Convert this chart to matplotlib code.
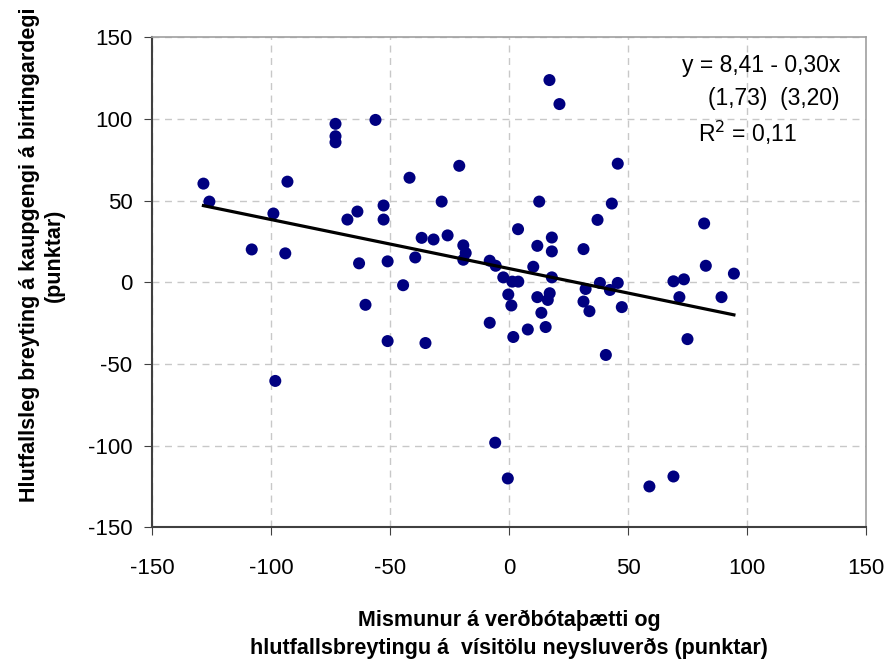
import matplotlib.pyplot as plt
import numpy as np

plt.rcParams['font.family'] = ['Liberation Sans', 'DejaVu Sans']
plt.rcParams['axes.unicode_minus'] = False

# x: mismunur (punktar), y: hlutfallsleg breyting (punktar)
x = [-128.4, -125.9, -99.0, -93.1, -108.1, -94.0, -72.9, -72.9, -72.9, -56.1,
     -67.9, -63.7, -52.7, -52.7, -63.0, -51.0, -41.8, -44.5, -39.4, -36.7,
     -31.7, -28.3, -25.8, -20.9, -19.2, -18.2, -19.2, -8.1, -5.6, -2.4,
     1.4, 3.9, 3.8, 17.0, 21.2, 45.7, 12.7, 43.2, 37.2, 18.0,
     11.9, 18.0, 31.3, 82.0, 82.7, 94.5, 69.1, 73.5, 10.2, 18.0,
     -0.3, 1.0, -8.1, 1.8, 7.9, 11.9, 16.3, 17.1, 13.6, 15.4,
     31.3, 32.2, 33.8, 38.2, 42.4, 45.7, 47.4, 40.7, 71.6, 89.3,
     75.0, -5.8, -0.5, 59.0, 69.1, -60.3, -51.0, -35.1, -98.2]
y = [60.4, 49.4, 42.1, 61.6, 20.1, 17.7, 97.0, 89.4, 85.7, 99.4,
     38.4, 43.3, 47.0, 38.4, 11.6, 12.8, 64.0, -1.8, 15.2, 27.2,
     26.2, 49.4, 28.7, 71.3, 22.6, 17.9, 13.8, 13.2, 10.1, 3.0,
     0.4, 0.4, 32.5, 123.8, 109.1, 72.6, 49.4, 48.2, 38.2, 27.4,
     22.3, 18.9, 20.3, 36.0, 10.1, 5.3, 0.6, 1.8, 9.5, 3.0,
     -7.5, -14.2, -24.8, -33.5, -28.9, -9.1, -10.8, -6.7, -18.7, -27.4,
     -11.8, -4.1, -17.7, -0.4, -4.7, -0.4, -15.2, -44.5, -9.1, -9.1,
     -34.8, -98.2, -120.1, -125.0, -118.9, -13.8, -36.0, -37.2, -60.4]

intercept = 8.41
slope = -0.30
ticks = [-150, -100, -50, 0, 50, 100, 150]

fig = plt.figure(figsize=(8.88, 6.62), dpi=100)
ax = fig.add_axes([0.1712, 0.2035, 0.8040, 0.7402])

ax.scatter(x, y, s=75, color='#000080', edgecolors='none', zorder=3)
xl = np.array([min(x), max(x)])
ax.plot(xl, intercept + slope * xl, color='black', lw=2.3, zorder=4)

ax.set_xlim(-150, 150)
ax.set_ylim(-150, 150)
ax.set_xticks(ticks)
ax.set_yticks(ticks)
ax.grid(True, color='#c8c8c8', linestyle=(0, (5, 4)), lw=1)
ax.set_axisbelow(True)
ax.tick_params(labelsize=16, direction='out', length=6, color='#404040')
ax.tick_params(axis='x', pad=16)
ax.tick_params(axis='y', pad=8)
for s in ['left', 'bottom']:
    ax.spines[s].set_color('#404040')
    ax.spines[s].set_linewidth(1.5)
for s in ['top', 'right']:
    ax.spines[s].set_color('#a0a0a0')
    ax.spines[s].set_linewidth(1.2)

ax.set_xlabel('Mismunur á verðbótaþætti og\nhlutfallsbreytingu á  vísitölu neysluverðs (punktar)',
              fontsize=15.5, fontweight='bold', linespacing=1.45)
ax.xaxis.set_label_coords(0.5, -0.168)
ax.set_ylabel('Hlutfallsleg breyting á kaupgengi á birtingardegi\n(punktar)',
              fontsize=15.5, fontweight='bold', linespacing=1.25)
ax.yaxis.set_label_coords(-0.122, 0.556)

ax.text(0.9636, 0.9414, 'y = 8,41 - 0,30x', transform=ax.transAxes, fontsize=16.5,
        ha='right', va='center')
ax.text(0.9636, 0.876, '(1,73)  (3,20)', transform=ax.transAxes, fontsize=16.5,
        ha='right', va='center')
ax.text(0.8347, 0.8047, 'R$^2$ = 0,11', transform=ax.transAxes, fontsize=16.5,
        ha='center', va='center')

fig.savefig('out.png', dpi=100)
